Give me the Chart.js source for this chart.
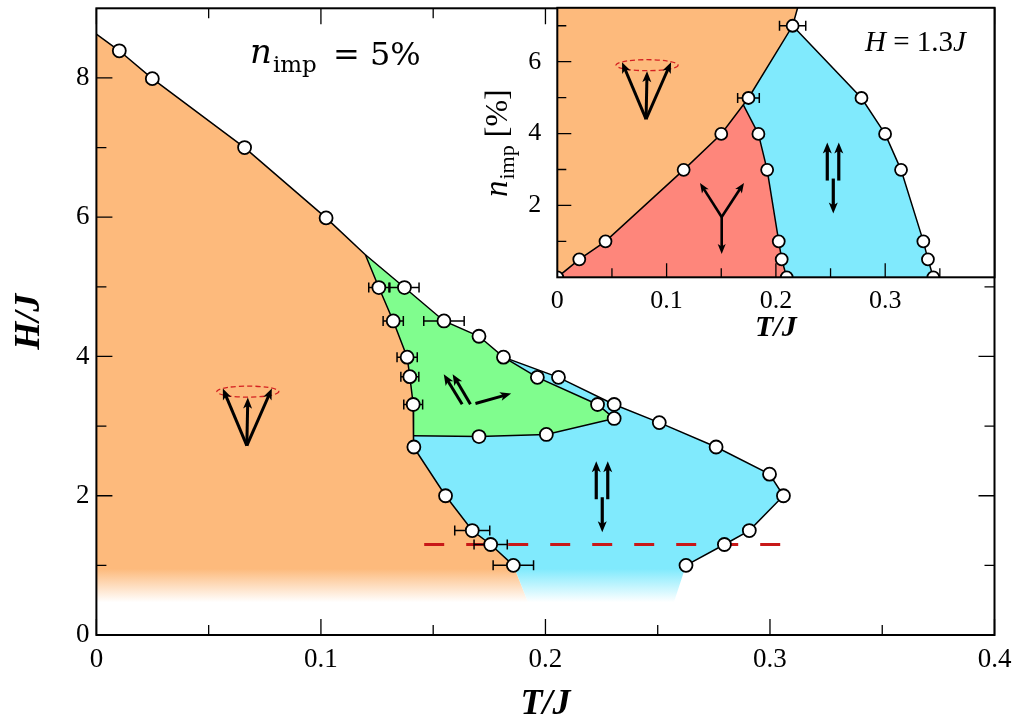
<!DOCTYPE html>
<html>
<head>
<meta charset="utf-8">
<script src="https://cdn.jsdelivr.net/npm/chart.js@4.4.1/dist/chart.umd.min.js"></script>
<style>
  body { margin: 0; background: #fff; }
  #wrap { position: relative; width: 1024px; height: 723px; }
  #main { position: absolute; left: 0; top: 0; }
  #inset { position: absolute; left: 480px; top: 0; }
</style>
</head>
<body>
<div id="wrap">
  <canvas id="main" width="1024" height="723"></canvas>
  <canvas id="inset" width="544" height="345"></canvas>
</div>
<script>
// ---- main panel: H/J vs T/J at n_imp = 5% ----
const mainXTicks = [0, 0.1, 0.2, 0.3, 0.4];
const mainXMinor = [0.05, 0.15, 0.25, 0.35];
const mainYTicks = [0, 2, 4, 6, 8];
const mainYMinor = [1, 3, 5, 7];

// outer boundary (white side), from T=0 round to the lowest point on the right
const outerT = [0, 0.0102, 0.0249, 0.0660, 0.1023, 0.1198, 0.1372, 0.1548, 0.1704, 0.1813, 0.2058, 0.2306, 0.2507, 0.2760, 0.2998, 0.3060, 0.2908, 0.2797, 0.2626];
const outerH = [8.63, 8.39, 7.99, 7.00, 5.99, 5.46, 4.99, 4.51, 4.29, 3.99, 3.70, 3.31, 3.05, 2.70, 2.31, 2.00, 1.50, 1.30, 1.00];
// boundary of the orange phase (against green, then cyan)
const leftT = [0.1198, 0.1258, 0.1322, 0.1384, 0.1396, 0.1411, 0.1411, 0.1414, 0.1555, 0.1674, 0.1756, 0.1857];
const leftH = [5.46, 4.99, 4.51, 3.99, 3.71, 3.31, 2.86, 2.70, 2.00, 1.50, 1.30, 1.00];
// green / cyan boundaries
const greenTopT = [0.1813, 0.1964, 0.2232, 0.2306];
const greenTopH = [3.99, 3.70, 3.31, 3.11];
const greenBotT = [0.1411, 0.1704, 0.2004, 0.2306];
const greenBotH = [2.86, 2.85, 2.88, 3.11];
// where the regions fade out at low field
const fadeT = [0.1925, 0.2570];
const fadeH = 0.45;

// measured points
const ptT = [0.0102, 0.0249, 0.0660, 0.1023, 0.1258, 0.1372, 0.1322, 0.1548, 0.1704, 0.1813, 0.1384, 0.1396, 0.1964, 0.2058, 0.1411, 0.2232, 0.2306, 0.2306, 0.2507, 0.1704, 0.2004, 0.1414, 0.2760, 0.2998, 0.3060, 0.1555, 0.2908, 0.1674, 0.2797, 0.1756, 0.2626, 0.1857];
const ptH = [8.39, 7.99, 7.00, 5.99, 4.99, 4.99, 4.51, 4.51, 4.29, 3.99, 3.99, 3.71, 3.70, 3.70, 3.31, 3.31, 3.31, 3.11, 3.05, 2.85, 2.88, 2.70, 2.70, 2.31, 2.00, 2.00, 1.50, 1.50, 1.30, 1.30, 1.00, 1.00];
// horizontal error bars
const errT = [0.0249, 0.1258, 0.1372, 0.1322, 0.1548, 0.1704, 0.1384, 0.1396, 0.1411, 0.1704, 0.2306, 0.2306, 0.1674, 0.1756, 0.1857];
const errH = [7.99, 4.99, 4.99, 4.51, 4.51, 4.29, 3.99, 3.71, 3.31, 2.85, 3.31, 3.11, 1.50, 1.30, 1.00];
const errW = [0.002, 0.0045, 0.0065, 0.0045, 0.009, 0.002, 0.0045, 0.004, 0.0042, 0.002, 0.002, 0.002, 0.0078, 0.0074, 0.009];
// the H = 1.3J cut shown in the inset
const cutT = [0.146, 0.3065];
const cutH = [1.3, 1.3];

// ---- inset: n_imp vs T/J at H = 1.3J ----
const inXTicks = [0, 0.1, 0.2, 0.3];
const inXMinor = [0.05, 0.15, 0.25, 0.35];
const inYTicks = [2, 4, 6];
const inYMinor = [1, 3, 5, 7];
const inOrangeT = [0, 0.0201, 0.0441, 0.1156, 0.1500, 0.1749, 0.2153, 0.2199];
const inOrangeN = [0, 0.50, 1.00, 2.99, 3.99, 4.99, 7.00, 7.50];
const inRedT = [0.1702, 0.1840, 0.1920, 0.2026, 0.2053, 0.2099];
const inRedN = [4.80, 3.99, 2.99, 1.00, 0.50, 0];
const inBlueT = [0.2153, 0.2783, 0.2999, 0.3145, 0.3349, 0.3391, 0.3440];
const inBlueN = [7.00, 4.99, 3.99, 2.99, 1.00, 0.50, 0];
const inErrT = [0.1749, 0.2153];
const inErrN = [4.99, 7.00];
const inErrW = [0.0099, 0.012];

const ORANGE = '#fdba7c', GREEN = '#80fd8e', CYAN = '#80eafd', RED = '#fe867b';
const SERIF = '"Liberation Serif", "Times New Roman", serif';

const pts = (ts, hs) => ts.map((t, i) => ({ x: t, y: hs[i] }));

function errData(ts, hs, ws) {
  const out = [];
  ts.forEach((t, i) => {
    out.push({ x: t - ws[i], y: hs[i] }, { x: t + ws[i], y: hs[i] }, { x: t + ws[i], y: null });
  });
  return out;
}

function fade(color) {
  return (ctx) => {
    const chart = ctx.chart;
    const y = chart.scales && chart.scales.y;
    if (!y || !chart.chartArea) return color;
    const g = chart.ctx.createLinearGradient(0, y.getPixelForValue(0.95), 0, y.getPixelForValue(0.47));
    g.addColorStop(0, color);
    g.addColorStop(1, '#ffffff');
    return g;
  };
}

function arrow(ctx, x1, y1, x2, y2, lw, hl, hw) {
  const a = Math.atan2(y2 - y1, x2 - x1), c = Math.cos(a), s = Math.sin(a);
  ctx.lineWidth = lw;
  ctx.beginPath();
  ctx.moveTo(x1, y1);
  ctx.lineTo(x2 - c * hl * 0.7, y2 - s * hl * 0.7);
  ctx.stroke();
  ctx.beginPath();
  ctx.moveTo(x2, y2);
  ctx.lineTo(x2 - c * hl - s * hw, y2 - s * hl + c * hw);
  ctx.lineTo(x2 - c * hl * 0.75, y2 - s * hl * 0.75);
  ctx.lineTo(x2 - c * hl + s * hw, y2 - s * hl - c * hw);
  ctx.closePath();
  ctx.fill();
}

function vSymbol(ctx, bx, by) {
  ctx.strokeStyle = '#d42020';
  ctx.lineWidth = 1.3;
  ctx.setLineDash([5, 3]);
  ctx.beginPath();
  ctx.ellipse(bx + 1, by - 54, 31, 5.5, 0, 0, 2 * Math.PI);
  ctx.stroke();
  ctx.setLineDash([]);
  ctx.strokeStyle = '#000';
  ctx.fillStyle = '#000';
  arrow(ctx, bx, by, bx - 24, by - 57, 3, 11, 4.5);
  arrow(ctx, bx, by, bx + 1, by - 48, 3, 11, 4.5);
  arrow(ctx, bx, by, bx + 25, by - 57, 3, 11, 4.5);
}

function udSymbol(ctx, bx, by) {
  ctx.strokeStyle = '#000';
  ctx.fillStyle = '#000';
  arrow(ctx, bx - 6, by + 1, bx - 6, by - 37, 3.2, 11, 4.5);
  arrow(ctx, bx + 5.5, by + 1, bx + 5.5, by - 37, 3.2, 11, 4.5);
  arrow(ctx, bx, by - 1, bx, by + 34, 3.2, 11, 4.5);
}

function frameTicks(chart, xMaj, xMin, yMaj, yMin, sides, majLen, minLen) {
  const { ctx, chartArea: a, scales: { x, y } } = chart;
  ctx.save();
  ctx.strokeStyle = '#000';
  ctx.lineWidth = 1.3;
  ctx.beginPath();
  const tx = (v, len) => {
    const p = x.getPixelForValue(v);
    if (sides.includes('b')) { ctx.moveTo(p, a.bottom); ctx.lineTo(p, a.bottom - len); }
    if (sides.includes('t')) { ctx.moveTo(p, a.top); ctx.lineTo(p, a.top + len); }
  };
  const ty = (v, len) => {
    const p = y.getPixelForValue(v);
    if (sides.includes('l')) { ctx.moveTo(a.left, p); ctx.lineTo(a.left + len, p); }
    if (sides.includes('r')) { ctx.moveTo(a.right, p); ctx.lineTo(a.right - len, p); }
  };
  xMaj.forEach(v => tx(v, majLen));
  xMin.forEach(v => tx(v, minLen));
  yMaj.forEach(v => ty(v, majLen));
  yMin.forEach(v => ty(v, minLen));
  ctx.stroke();
  ctx.lineWidth = 2;
  ctx.strokeRect(a.left, a.top, a.right - a.left, a.bottom - a.top);
  ctx.restore();
}

// keep chart.js from reserving room for half tick labels at the ends
function fitX(h) { return s => { s.height = h; s.paddingLeft = 0; s.paddingRight = 0; }; }
function fitY(w) { return s => { s.width = w; s.paddingTop = 0; s.paddingBottom = 0; }; }

const mainDeco = {
  id: 'mainDeco',
  afterDatasetsDraw(chart) {
    const { ctx, scales: { x, y } } = chart;
    ctx.save();
    ctx.lineCap = 'butt';
    vSymbol(ctx, x.getPixelForValue(0.0670), y.getPixelForValue(2.72));
    // green phase: two parallel spins plus one sideways
    const gx = x.getPixelForValue(0.1629), gy = y.getPixelForValue(3.315);
    ctx.strokeStyle = '#000';
    ctx.fillStyle = '#000';
    arrow(ctx, gx, gy, gx - 18.4, gy - 30, 3, 11, 4.5);
    arrow(ctx, gx + 8.3, gy, gx - 9.5, gy - 30, 3, 11, 4.5);
    arrow(ctx, gx + 13.3, gy - 0.6, gx + 49, gy - 10.6, 3, 11, 4.5);
    udSymbol(ctx, x.getPixelForValue(0.2253), y.getPixelForValue(1.964));
    ctx.restore();
  },
  afterDraw(chart) {
    frameTicks(chart, mainXTicks, mainXMinor, mainYTicks.slice(1), mainYMinor, 'btlr', 16, 10);
    const ctx = chart.ctx;
    ctx.save();
    ctx.fillStyle = '#000';
    ctx.textBaseline = 'alphabetic';
    ctx.font = 'italic 34px "DejaVu Serif"';
    ctx.fillText('n', 250, 63);
    const wn = ctx.measureText('n').width;
    ctx.font = '23px "DejaVu Serif"';
    ctx.fillText('imp', 250 + wn + 1, 72);
    ctx.font = '32px "DejaVu Serif"';
    ctx.fillText('= 5%', 333, 65);
    ctx.restore();
  }
};

new Chart(document.getElementById('main'), {
  type: 'line',
  data: {
    datasets: [
      { data: [{ x: 0, y: fadeH }, ...pts(outerT.slice(0, 6), outerH.slice(0, 6)), ...pts(leftT.slice(1), leftH.slice(1)), { x: fadeT[0], y: fadeH }, { x: 0, y: fadeH }],
        fill: 'shape', backgroundColor: fade(ORANGE), borderWidth: 0, borderColor: 'rgba(0,0,0,0)', order: 10 },
      { data: [...pts(outerT.slice(9), outerH.slice(9)), { x: fadeT[1], y: fadeH }, { x: fadeT[0], y: fadeH }, ...pts(leftT.slice(6), leftH.slice(6)).reverse(), { x: outerT[9], y: outerH[9] }],
        fill: 'shape', backgroundColor: fade(CYAN), borderWidth: 0, borderColor: 'rgba(0,0,0,0)', order: 9 },
      { data: [...pts(outerT.slice(5, 10), outerH.slice(5, 10)), ...pts(greenTopT.slice(1), greenTopH.slice(1)), ...pts(greenBotT, greenBotH).reverse().slice(1), ...pts(leftT.slice(0, 6), leftH.slice(0, 6)).reverse()],
        fill: 'shape', backgroundColor: GREEN, borderWidth: 0, borderColor: 'rgba(0,0,0,0)', order: 8 },
      { data: pts(outerT, outerH), borderColor: '#000', borderWidth: 1.5, order: 5 },
      { data: pts(leftT, leftH), borderColor: '#000', borderWidth: 1.5, order: 5 },
      { data: pts(greenTopT, greenTopH), borderColor: '#000', borderWidth: 1.5, order: 5 },
      { data: pts(greenBotT, greenBotH), borderColor: '#000', borderWidth: 1.5, order: 5 },
      { data: pts(cutT, cutH), borderColor: '#c81818', borderWidth: 3, borderDash: [20, 22], order: 4 },
      { data: errData(errT, errH, errW), borderColor: '#000', borderWidth: 1.5, spanGaps: false,
        pointStyle: 'line', pointRotation: 90, pointRadius: 5, pointBorderWidth: 1.5, pointBorderColor: '#000', order: 3 },
      { data: pts(ptT, ptH), showLine: false, pointRadius: 6.5, pointBackgroundColor: '#fff',
        pointBorderColor: '#000', pointBorderWidth: 1.8, order: 1 }
    ]
  },
  options: {
    responsive: false,
    animation: false,
    events: [],
    layout: { padding: { top: 6, right: 29.5, left: 0, bottom: 0 } },
    plugins: { legend: { display: false }, tooltip: { enabled: false } },
    elements: { line: { tension: 0, fill: false }, point: { radius: 0 } },
    scales: {
      x: {
        type: 'linear', min: 0, max: 0.4,
        afterFit: fitX(88),
        afterBuildTicks: s => { s.ticks = mainXTicks.map(v => ({ value: v })); },
        grid: { display: false, drawTicks: false },
        border: { display: false },
        ticks: { color: '#000', font: { family: SERIF, size: 27 }, padding: 9, maxRotation: 0, autoSkip: false, callback: v => String(v) },
        title: { display: true, text: 'T/J', color: '#000', padding: { top: 0, bottom: 0 },
                 font: { family: SERIF, size: 36, style: 'italic', weight: 'bold', lineHeight: 1 } }
      },
      y: {
        type: 'linear', min: 0, max: 9,
        afterFit: fitY(96.4),
        afterBuildTicks: s => { s.ticks = mainYTicks.map(v => ({ value: v })); },
        grid: { display: false, drawTicks: false },
        border: { display: false },
        ticks: { color: '#000', font: { family: SERIF, size: 27 }, padding: 7, callback: v => String(v) },
        title: { display: true, text: 'H/J', color: '#000', padding: { top: 12, bottom: 0 },
                 font: { family: SERIF, size: 36, style: 'italic', weight: 'bold', lineHeight: 1 } }
      }
    }
  },
  plugins: [mainDeco]
});

// ---- inset chart ----
const insetDeco = {
  id: 'insetDeco',
  beforeDatasetsDraw(chart) {
    const { ctx, chartArea: a } = chart;
    ctx.save();
    ctx.fillStyle = '#fff';
    ctx.fillRect(a.left, a.top, a.right - a.left, a.bottom - a.top);
    ctx.restore();
  },
  afterDatasetsDraw(chart) {
    const { ctx, scales: { x, y } } = chart;
    ctx.save();
    vSymbol(ctx, x.getPixelForValue(0.0812), y.getPixelForValue(4.40));
    // Y-shaped spins in the red phase
    const jx = x.getPixelForValue(0.1504), jy = y.getPixelForValue(1.68);
    ctx.strokeStyle = '#000';
    ctx.fillStyle = '#000';
    arrow(ctx, jx, jy, jx - 21.7, jy - 34, 2.6, 10, 4);
    arrow(ctx, jx, jy, jx + 22.3, jy - 34, 2.6, 10, 4);
    arrow(ctx, jx, jy, jx, jy + 37, 2.6, 10, 4);
    udSymbol(ctx, x.getPixelForValue(0.2525), y.getPixelForValue(2.72));
    ctx.restore();
  },
  afterDraw(chart) {
    frameTicks(chart, inXTicks.slice(1), inXMinor, inYTicks, inYMinor, 'bl', 14, 9);
    const ctx = chart.ctx;
    ctx.save();
    ctx.fillStyle = '#000';
    // H = 1.3J
    let px = 385;
    ctx.font = 'italic 29px ' + SERIF;
    ctx.fillText('H', px, 51);
    px += ctx.measureText('H').width;
    ctx.font = '29px ' + SERIF;
    ctx.fillText(' = 1.3', px, 51);
    px += ctx.measureText(' = 1.3').width;
    ctx.font = 'italic 29px ' + SERIF;
    ctx.fillText('J', px, 51);
    // rotated y title n_imp [%]
    ctx.translate(27, 197);
    ctx.rotate(-Math.PI / 2);
    ctx.font = 'italic 33px ' + SERIF;
    ctx.fillText('n', 0, 0);
    let w = ctx.measureText('n').width;
    ctx.font = '22px ' + SERIF;
    ctx.fillText('imp', w + 1, 7);
    w += ctx.measureText('imp').width + 1;
    ctx.font = '32px ' + SERIF;
    ctx.fillText(' [%]', w, 0);
    ctx.restore();
  }
};

new Chart(document.getElementById('inset'), {
  type: 'line',
  data: {
    datasets: [
      { data: [...pts(inOrangeT, inOrangeN), { x: 0, y: 7.5 }, { x: 0, y: 0 }],
        fill: 'shape', backgroundColor: ORANGE, borderWidth: 0, borderColor: 'rgba(0,0,0,0)', order: 10 },
      { data: [...pts(inOrangeT.slice(0, 5), inOrangeN.slice(0, 5)), ...pts(inRedT, inRedN), { x: 0, y: 0 }],
        fill: 'shape', backgroundColor: RED, borderWidth: 0, borderColor: 'rgba(0,0,0,0)', order: 9 },
      { data: [{ x: inRedT[0], y: inRedN[0] }, ...pts(inOrangeT.slice(5, 7), inOrangeN.slice(5, 7)), ...pts(inBlueT.slice(1), inBlueN.slice(1)), ...pts(inRedT, inRedN).reverse()],
        fill: 'shape', backgroundColor: CYAN, borderWidth: 0, borderColor: 'rgba(0,0,0,0)', order: 8 },
      { data: pts(inOrangeT, inOrangeN), borderColor: '#000', borderWidth: 1.5, order: 5 },
      { data: pts(inRedT, inRedN), borderColor: '#000', borderWidth: 1.5, order: 5 },
      { data: pts(inBlueT, inBlueN), borderColor: '#000', borderWidth: 1.5, order: 5 },
      { data: errData(inErrT, inErrN, inErrW), borderColor: '#000', borderWidth: 1.5, spanGaps: false,
        pointStyle: 'line', pointRotation: 90, pointRadius: 5, pointBorderWidth: 1.5, pointBorderColor: '#000', order: 3 },
      { data: [...pts(inOrangeT.slice(0, 7), inOrangeN.slice(0, 7)), ...pts(inRedT.slice(1), inRedN.slice(1)), ...pts(inBlueT.slice(1), inBlueN.slice(1))],
        showLine: false, pointRadius: 6, pointBackgroundColor: '#fff', pointBorderColor: '#000', pointBorderWidth: 1.8, order: 1 }
    ]
  },
  options: {
    responsive: false,
    animation: false,
    events: [],
    layout: { padding: { top: 6, right: 29.5, left: 0, bottom: 0 } },
    plugins: { legend: { display: false }, tooltip: { enabled: false } },
    elements: { line: { tension: 0, fill: false }, point: { radius: 0 } },
    scales: {
      x: {
        type: 'linear', min: 0, max: 0.4,
        afterFit: fitX(67.7),
        afterBuildTicks: s => { s.ticks = inXTicks.map(v => ({ value: v })); },
        grid: { display: false, drawTicks: false },
        border: { display: false },
        ticks: { color: '#000', font: { family: SERIF, size: 26 }, padding: 8, maxRotation: 0, autoSkip: false, callback: v => String(v) },
        title: { display: true, text: 'T/J', color: '#000', padding: { top: 0, bottom: 2 },
                 font: { family: SERIF, size: 30, style: 'italic', weight: 'bold', lineHeight: 1 } }
      },
      y: {
        type: 'linear', min: 0, max: 7.5,
        afterFit: fitY(77.3),
        afterBuildTicks: s => { s.ticks = inYTicks.map(v => ({ value: v })); },
        grid: { display: false, drawTicks: false },
        border: { display: false },
        ticks: { color: '#000', font: { family: SERIF, size: 26 }, padding: 16, callback: v => String(v) },
        title: { display: false }
      }
    }
  },
  plugins: [insetDeco]
});
</script>
</body>
</html>
